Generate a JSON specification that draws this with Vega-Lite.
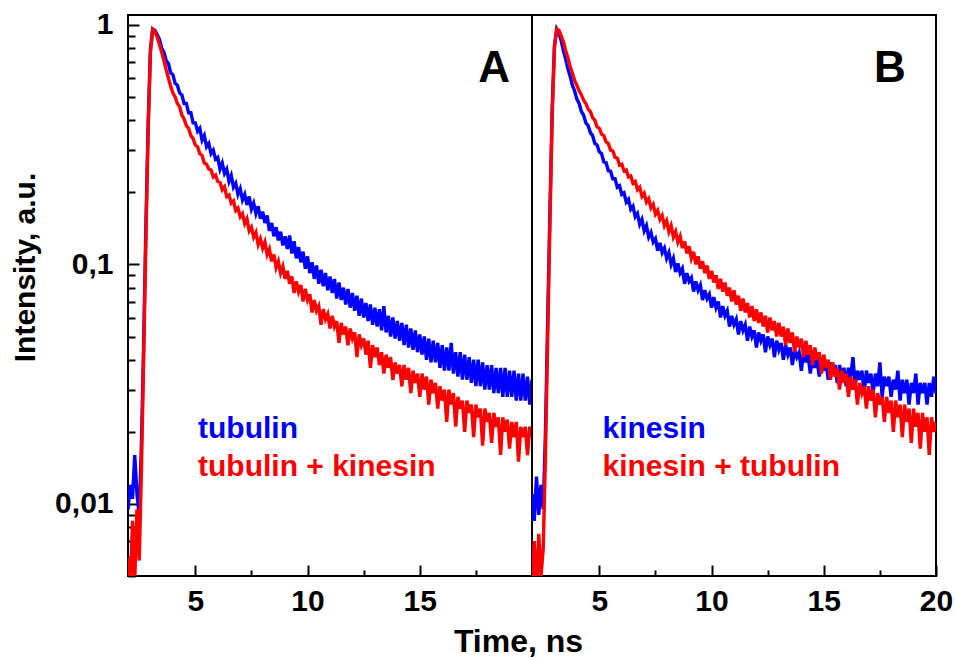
{
  "$schema": "https://vega.github.io/schema/vega-lite/v6.json",
  "background": "white",
  "padding": {"left": 9, "top": 8, "right": 5, "bottom": 0},
  "spacing": 0,
  "bounds": "flush",
  "config": {
    "font": "Liberation Sans",
    "view": {"stroke": "black", "strokeWidth": 2},
    "axis": {
      "labelFont": "Liberation Sans", "titleFont": "Liberation Sans",
      "labelColor": "black", "titleColor": "black", "tickColor": "black",
      "grid": false, "domain": false,
      "labelFontWeight": "bold", "titleFontWeight": "bold",
      "labelFontSize": 30, "titleFontSize": 30,
      "tickWidth": 2, "labelFlush": false, "labelOverlap": false
    }
  },
  "datasets": {
    "A_tubulin": [
      {"t":2.0,"v":0.0095},{"t":2.1,"v":0.012},{"t":2.2,"v":0.0105},{"t":2.3,"v":0.016},{"t":2.4,"v":0.011},{"t":2.5,"v":0.009},{"t":2.6,"v":0.018},{"t":2.7,"v":0.048},{"t":2.8,"v":0.15},{"t":2.9,"v":0.39},
      {"t":3.0,"v":0.79},{"t":3.1,"v":0.96},{"t":3.2,"v":0.95},{"t":3.3,"v":0.91},{"t":3.4,"v":0.87},{"t":3.5,"v":0.80},{"t":3.6,"v":0.77},{"t":3.7,"v":0.71},{"t":3.8,"v":0.69},{"t":3.9,"v":0.63},
      {"t":4.0,"v":0.62},{"t":4.1,"v":0.57},{"t":4.2,"v":0.56},{"t":4.3,"v":0.52},{"t":4.4,"v":0.51},{"t":4.5,"v":0.47},{"t":4.6,"v":0.47},{"t":4.7,"v":0.43},{"t":4.8,"v":0.43},{"t":4.9,"v":0.39},
      {"t":5.0,"v":0.39},{"t":5.1,"v":0.36},{"t":5.2,"v":0.37},{"t":5.3,"v":0.33},{"t":5.4,"v":0.345},{"t":5.5,"v":0.31},{"t":5.6,"v":0.32},{"t":5.7,"v":0.29},{"t":5.8,"v":0.30},{"t":5.9,"v":0.275},
      {"t":6.0,"v":0.28},{"t":6.1,"v":0.25},{"t":6.2,"v":0.265},{"t":6.3,"v":0.24},{"t":6.4,"v":0.25},{"t":6.5,"v":0.222},{"t":6.6,"v":0.235},{"t":6.7,"v":0.21},{"t":6.8,"v":0.218},{"t":6.9,"v":0.196},
      {"t":7.0,"v":0.207},{"t":7.1,"v":0.186},{"t":7.2,"v":0.196},{"t":7.3,"v":0.177},{"t":7.4,"v":0.192},{"t":7.5,"v":0.17},{"t":7.6,"v":0.18},{"t":7.7,"v":0.163},{"t":7.8,"v":0.175},{"t":7.9,"v":0.155},
      {"t":8.0,"v":0.166},{"t":8.1,"v":0.149},{"t":8.2,"v":0.16},{"t":8.3,"v":0.138},{"t":8.4,"v":0.149},{"t":8.5,"v":0.131},{"t":8.6,"v":0.143},{"t":8.7,"v":0.126},{"t":8.8,"v":0.137},{"t":8.9,"v":0.12},
      {"t":9.0,"v":0.131},{"t":9.1,"v":0.116},{"t":9.2,"v":0.132},{"t":9.3,"v":0.111},{"t":9.4,"v":0.125},{"t":9.5,"v":0.106},{"t":9.6,"v":0.118},{"t":9.7,"v":0.102},{"t":9.8,"v":0.113},{"t":9.9,"v":0.096},
      {"t":10.0,"v":0.108},{"t":10.1,"v":0.092},{"t":10.2,"v":0.102},{"t":10.3,"v":0.087},{"t":10.4,"v":0.099},{"t":10.5,"v":0.083},{"t":10.6,"v":0.095},{"t":10.7,"v":0.081},{"t":10.8,"v":0.092},{"t":10.9,"v":0.078},
      {"t":11.0,"v":0.089},{"t":11.1,"v":0.076},{"t":11.2,"v":0.087},{"t":11.3,"v":0.072},{"t":11.4,"v":0.084},{"t":11.5,"v":0.071},{"t":11.6,"v":0.08},{"t":11.7,"v":0.068},{"t":11.8,"v":0.079},{"t":11.9,"v":0.066},
      {"t":12.0,"v":0.076},{"t":12.1,"v":0.064},{"t":12.2,"v":0.074},{"t":12.3,"v":0.061},{"t":12.4,"v":0.072},{"t":12.5,"v":0.06},{"t":12.6,"v":0.069},{"t":12.7,"v":0.058},{"t":12.8,"v":0.068},{"t":12.9,"v":0.056},
      {"t":13.0,"v":0.066},{"t":13.1,"v":0.055},{"t":13.2,"v":0.065},{"t":13.3,"v":0.053},{"t":13.4,"v":0.067},{"t":13.5,"v":0.052},{"t":13.6,"v":0.061},{"t":13.7,"v":0.05},{"t":13.8,"v":0.06},{"t":13.9,"v":0.049},
      {"t":14.0,"v":0.058},{"t":14.1,"v":0.048},{"t":14.2,"v":0.057},{"t":14.3,"v":0.046},{"t":14.4,"v":0.056},{"t":14.5,"v":0.045},{"t":14.6,"v":0.054},{"t":14.7,"v":0.044},{"t":14.8,"v":0.053},{"t":14.9,"v":0.043},
      {"t":15.0,"v":0.051},{"t":15.1,"v":0.042},{"t":15.2,"v":0.05},{"t":15.3,"v":0.04},{"t":15.4,"v":0.049},{"t":15.5,"v":0.039},{"t":15.6,"v":0.048},{"t":15.7,"v":0.039},{"t":15.8,"v":0.047},{"t":15.9,"v":0.037},
      {"t":16.0,"v":0.046},{"t":16.1,"v":0.036},{"t":16.2,"v":0.045},{"t":16.3,"v":0.036},{"t":16.4,"v":0.047},{"t":16.5,"v":0.035},{"t":16.6,"v":0.043},{"t":16.7,"v":0.034},{"t":16.8,"v":0.043},{"t":16.9,"v":0.033},
      {"t":17.0,"v":0.042},{"t":17.1,"v":0.033},{"t":17.2,"v":0.041},{"t":17.3,"v":0.032},{"t":17.4,"v":0.04},{"t":17.5,"v":0.031},{"t":17.6,"v":0.04},{"t":17.7,"v":0.031},{"t":17.8,"v":0.039},{"t":17.9,"v":0.03},
      {"t":18.0,"v":0.038},{"t":18.1,"v":0.03},{"t":18.2,"v":0.038},{"t":18.3,"v":0.029},{"t":18.4,"v":0.037},{"t":18.5,"v":0.029},{"t":18.6,"v":0.037},{"t":18.7,"v":0.028},{"t":18.8,"v":0.037},{"t":18.9,"v":0.028},
      {"t":19.0,"v":0.036},{"t":19.1,"v":0.028},{"t":19.2,"v":0.036},{"t":19.3,"v":0.027},{"t":19.4,"v":0.035},{"t":19.5,"v":0.027},{"t":19.6,"v":0.035},{"t":19.7,"v":0.027},{"t":19.8,"v":0.034},{"t":19.9,"v":0.026},
      {"t":20.0,"v":0.033}
    ],
    "A_tubulin_kinesin": [
      {"t":2.0,"v":0.006},{"t":2.1,"v":0.0042},{"t":2.2,"v":0.0085},{"t":2.3,"v":0.0048},{"t":2.4,"v":0.0095},{"t":2.5,"v":0.0058},{"t":2.6,"v":0.014},{"t":2.7,"v":0.042},{"t":2.8,"v":0.13},{"t":2.9,"v":0.37},
      {"t":3.0,"v":0.77},{"t":3.1,"v":0.96},{"t":3.2,"v":0.94},{"t":3.3,"v":0.89},{"t":3.4,"v":0.83},{"t":3.5,"v":0.77},{"t":3.6,"v":0.71},{"t":3.7,"v":0.65},{"t":3.8,"v":0.60},{"t":3.9,"v":0.555},
      {"t":4.0,"v":0.52},{"t":4.1,"v":0.50},{"t":4.2,"v":0.47},{"t":4.3,"v":0.455},{"t":4.4,"v":0.42},{"t":4.5,"v":0.405},{"t":4.6,"v":0.38},{"t":4.7,"v":0.37},{"t":4.8,"v":0.345},{"t":4.9,"v":0.335},
      {"t":5.0,"v":0.315},{"t":5.1,"v":0.31},{"t":5.2,"v":0.29},{"t":5.3,"v":0.285},{"t":5.4,"v":0.265},{"t":5.5,"v":0.262},{"t":5.6,"v":0.25},{"t":5.7,"v":0.248},{"t":5.8,"v":0.232},{"t":5.9,"v":0.236},
      {"t":6.0,"v":0.222},{"t":6.1,"v":0.22},{"t":6.2,"v":0.205},{"t":6.3,"v":0.211},{"t":6.4,"v":0.192},{"t":6.5,"v":0.195},{"t":6.6,"v":0.18},{"t":6.7,"v":0.184},{"t":6.8,"v":0.168},{"t":6.9,"v":0.172},
      {"t":7.0,"v":0.158},{"t":7.1,"v":0.163},{"t":7.2,"v":0.148},{"t":7.3,"v":0.155},{"t":7.4,"v":0.138},{"t":7.5,"v":0.143},{"t":7.6,"v":0.13},{"t":7.7,"v":0.136},{"t":7.8,"v":0.121},{"t":7.9,"v":0.128},
      {"t":8.0,"v":0.117},{"t":8.1,"v":0.124},{"t":8.2,"v":0.11},{"t":8.3,"v":0.116},{"t":8.4,"v":0.103},{"t":8.5,"v":0.11},{"t":8.6,"v":0.097},{"t":8.7,"v":0.103},{"t":8.8,"v":0.092},{"t":8.9,"v":0.098},
      {"t":9.0,"v":0.087},{"t":9.1,"v":0.094},{"t":9.2,"v":0.083},{"t":9.3,"v":0.089},{"t":9.4,"v":0.076},{"t":9.5,"v":0.085},{"t":9.6,"v":0.077},{"t":9.7,"v":0.082},{"t":9.8,"v":0.07},{"t":9.9,"v":0.079},
      {"t":10.0,"v":0.071},{"t":10.1,"v":0.075},{"t":10.2,"v":0.063},{"t":10.3,"v":0.071},{"t":10.4,"v":0.064},{"t":10.5,"v":0.067},{"t":10.6,"v":0.056},{"t":10.7,"v":0.065},{"t":10.8,"v":0.059},{"t":10.9,"v":0.062},
      {"t":11.0,"v":0.054},{"t":11.1,"v":0.061},{"t":11.2,"v":0.055},{"t":11.3,"v":0.058},{"t":11.4,"v":0.047},{"t":11.5,"v":0.057},{"t":11.6,"v":0.051},{"t":11.7,"v":0.055},{"t":11.8,"v":0.046},{"t":11.9,"v":0.054},
      {"t":12.0,"v":0.049},{"t":12.1,"v":0.052},{"t":12.2,"v":0.041},{"t":12.3,"v":0.051},{"t":12.4,"v":0.046},{"t":12.5,"v":0.049},{"t":12.6,"v":0.042},{"t":12.7,"v":0.048},{"t":12.8,"v":0.037},{"t":12.9,"v":0.046},
      {"t":13.0,"v":0.041},{"t":13.1,"v":0.045},{"t":13.2,"v":0.038},{"t":13.3,"v":0.043},{"t":13.4,"v":0.035},{"t":13.5,"v":0.042},{"t":13.6,"v":0.037},{"t":13.7,"v":0.041},{"t":13.8,"v":0.033},{"t":13.9,"v":0.039},
      {"t":14.0,"v":0.035},{"t":14.1,"v":0.038},{"t":14.2,"v":0.031},{"t":14.3,"v":0.038},{"t":14.4,"v":0.033},{"t":14.5,"v":0.037},{"t":14.6,"v":0.029},{"t":14.7,"v":0.036},{"t":14.8,"v":0.032},{"t":14.9,"v":0.035},
      {"t":15.0,"v":0.028},{"t":15.1,"v":0.035},{"t":15.2,"v":0.03},{"t":15.3,"v":0.034},{"t":15.4,"v":0.026},{"t":15.5,"v":0.033},{"t":15.6,"v":0.029},{"t":15.7,"v":0.032},{"t":15.8,"v":0.025},{"t":15.9,"v":0.031},
      {"t":16.0,"v":0.027},{"t":16.1,"v":0.03},{"t":16.2,"v":0.022},{"t":16.3,"v":0.03},{"t":16.4,"v":0.026},{"t":16.5,"v":0.029},{"t":16.6,"v":0.021},{"t":16.7,"v":0.028},{"t":16.8,"v":0.025},{"t":16.9,"v":0.027},
      {"t":17.0,"v":0.02},{"t":17.1,"v":0.027},{"t":17.2,"v":0.024},{"t":17.3,"v":0.026},{"t":17.4,"v":0.019},{"t":17.5,"v":0.026},{"t":17.6,"v":0.023},{"t":17.7,"v":0.025},{"t":17.8,"v":0.0175},{"t":17.9,"v":0.025},
      {"t":18.0,"v":0.022},{"t":18.1,"v":0.024},{"t":18.2,"v":0.018},{"t":18.3,"v":0.024},{"t":18.4,"v":0.021},{"t":18.5,"v":0.023},{"t":18.6,"v":0.016},{"t":18.7,"v":0.023},{"t":18.8,"v":0.02},{"t":18.9,"v":0.0225},
      {"t":19.0,"v":0.017},{"t":19.1,"v":0.022},{"t":19.2,"v":0.019},{"t":19.3,"v":0.022},{"t":19.4,"v":0.015},{"t":19.5,"v":0.021},{"t":19.6,"v":0.019},{"t":19.7,"v":0.021},{"t":19.8,"v":0.016},{"t":19.9,"v":0.021},
      {"t":20.0,"v":0.019}
    ],
    "B_kinesin": [
      {"t":2.0,"v":0.011},{"t":2.1,"v":0.0085},{"t":2.2,"v":0.013},{"t":2.3,"v":0.009},{"t":2.4,"v":0.012},{"t":2.5,"v":0.0095},{"t":2.6,"v":0.02},{"t":2.7,"v":0.06},{"t":2.8,"v":0.17},{"t":2.9,"v":0.45},
      {"t":3.0,"v":0.82},{"t":3.1,"v":0.96},{"t":3.2,"v":0.92},{"t":3.3,"v":0.86},{"t":3.4,"v":0.78},{"t":3.5,"v":0.72},{"t":3.6,"v":0.655},{"t":3.7,"v":0.61},{"t":3.8,"v":0.56},{"t":3.9,"v":0.53},
      {"t":4.0,"v":0.49},{"t":4.1,"v":0.47},{"t":4.2,"v":0.435},{"t":4.3,"v":0.42},{"t":4.4,"v":0.39},{"t":4.5,"v":0.38},{"t":4.6,"v":0.355},{"t":4.7,"v":0.345},{"t":4.8,"v":0.32},{"t":4.9,"v":0.315},
      {"t":5.0,"v":0.295},{"t":5.1,"v":0.29},{"t":5.2,"v":0.268},{"t":5.3,"v":0.266},{"t":5.4,"v":0.246},{"t":5.5,"v":0.245},{"t":5.6,"v":0.228},{"t":5.7,"v":0.228},{"t":5.8,"v":0.21},{"t":5.9,"v":0.213},
      {"t":6.0,"v":0.196},{"t":6.1,"v":0.199},{"t":6.2,"v":0.182},{"t":6.3,"v":0.187},{"t":6.4,"v":0.17},{"t":6.5,"v":0.175},{"t":6.6,"v":0.158},{"t":6.7,"v":0.163},{"t":6.8,"v":0.147},{"t":6.9,"v":0.154},
      {"t":7.0,"v":0.138},{"t":7.1,"v":0.145},{"t":7.2,"v":0.13},{"t":7.3,"v":0.136},{"t":7.4,"v":0.124},{"t":7.5,"v":0.128},{"t":7.6,"v":0.114},{"t":7.7,"v":0.123},{"t":7.8,"v":0.112},{"t":7.9,"v":0.117},
      {"t":8.0,"v":0.106},{"t":8.1,"v":0.112},{"t":8.2,"v":0.1},{"t":8.3,"v":0.106},{"t":8.4,"v":0.093},{"t":8.5,"v":0.101},{"t":8.6,"v":0.092},{"t":8.7,"v":0.096},{"t":8.8,"v":0.083},{"t":8.9,"v":0.092},
      {"t":9.0,"v":0.085},{"t":9.1,"v":0.088},{"t":9.2,"v":0.077},{"t":9.3,"v":0.085},{"t":9.4,"v":0.078},{"t":9.5,"v":0.082},{"t":9.6,"v":0.071},{"t":9.7,"v":0.078},{"t":9.8,"v":0.072},{"t":9.9,"v":0.075},
      {"t":10.0,"v":0.066},{"t":10.1,"v":0.073},{"t":10.2,"v":0.066},{"t":10.3,"v":0.07},{"t":10.4,"v":0.06},{"t":10.5,"v":0.067},{"t":10.6,"v":0.061},{"t":10.7,"v":0.064},{"t":10.8,"v":0.055},{"t":10.9,"v":0.061},
      {"t":11.0,"v":0.056},{"t":11.1,"v":0.059},{"t":11.2,"v":0.051},{"t":11.3,"v":0.058},{"t":11.4,"v":0.053},{"t":11.5,"v":0.056},{"t":11.6,"v":0.048},{"t":11.7,"v":0.055},{"t":11.8,"v":0.05},{"t":11.9,"v":0.053},
      {"t":12.0,"v":0.045},{"t":12.1,"v":0.052},{"t":12.2,"v":0.048},{"t":12.3,"v":0.051},{"t":12.4,"v":0.043},{"t":12.5,"v":0.05},{"t":12.6,"v":0.046},{"t":12.7,"v":0.049},{"t":12.8,"v":0.041},{"t":12.9,"v":0.048},
      {"t":13.0,"v":0.044},{"t":13.1,"v":0.047},{"t":13.2,"v":0.04},{"t":13.3,"v":0.046},{"t":13.4,"v":0.042},{"t":13.5,"v":0.045},{"t":13.6,"v":0.038},{"t":13.7,"v":0.044},{"t":13.8,"v":0.041},{"t":13.9,"v":0.043},
      {"t":14.0,"v":0.036},{"t":14.1,"v":0.043},{"t":14.2,"v":0.039},{"t":14.3,"v":0.042},{"t":14.4,"v":0.035},{"t":14.5,"v":0.041},{"t":14.6,"v":0.037},{"t":14.7,"v":0.04},{"t":14.8,"v":0.034},{"t":14.9,"v":0.04},
      {"t":15.0,"v":0.036},{"t":15.1,"v":0.039},{"t":15.2,"v":0.033},{"t":15.3,"v":0.039},{"t":15.4,"v":0.035},{"t":15.5,"v":0.038},{"t":15.6,"v":0.032},{"t":15.7,"v":0.038},{"t":15.8,"v":0.034},{"t":15.9,"v":0.037},
      {"t":16.0,"v":0.031},{"t":16.1,"v":0.037},{"t":16.2,"v":0.034},{"t":16.3,"v":0.041},{"t":16.4,"v":0.031},{"t":16.5,"v":0.036},{"t":16.6,"v":0.033},{"t":16.7,"v":0.036},{"t":16.8,"v":0.029},{"t":16.9,"v":0.036},
      {"t":17.0,"v":0.032},{"t":17.1,"v":0.035},{"t":17.2,"v":0.029},{"t":17.3,"v":0.035},{"t":17.4,"v":0.031},{"t":17.5,"v":0.039},{"t":17.6,"v":0.028},{"t":17.7,"v":0.034},{"t":17.8,"v":0.031},{"t":17.9,"v":0.034},
      {"t":18.0,"v":0.028},{"t":18.1,"v":0.033},{"t":18.2,"v":0.03},{"t":18.3,"v":0.036},{"t":18.4,"v":0.027},{"t":18.5,"v":0.033},{"t":18.6,"v":0.029},{"t":18.7,"v":0.033},{"t":18.8,"v":0.026},{"t":18.9,"v":0.032},
      {"t":19.0,"v":0.029},{"t":19.1,"v":0.035},{"t":19.2,"v":0.026},{"t":19.3,"v":0.032},{"t":19.4,"v":0.029},{"t":19.5,"v":0.032},{"t":19.6,"v":0.026},{"t":19.7,"v":0.032},{"t":19.8,"v":0.028},{"t":19.9,"v":0.034},
      {"t":20.0,"v":0.029}
    ],
    "B_kinesin_tubulin": [
      {"t":2.0,"v":0.0045},{"t":2.1,"v":0.007},{"t":2.2,"v":0.0042},{"t":2.3,"v":0.0075},{"t":2.4,"v":0.005},{"t":2.5,"v":0.0065},{"t":2.6,"v":0.016},{"t":2.7,"v":0.05},{"t":2.8,"v":0.15},{"t":2.9,"v":0.42},
      {"t":3.0,"v":0.8},{"t":3.1,"v":0.96},{"t":3.2,"v":0.95},{"t":3.3,"v":0.9},{"t":3.4,"v":0.85},{"t":3.5,"v":0.78},{"t":3.6,"v":0.73},{"t":3.7,"v":0.67},{"t":3.8,"v":0.63},{"t":3.9,"v":0.585},
      {"t":4.0,"v":0.56},{"t":4.1,"v":0.53},{"t":4.2,"v":0.51},{"t":4.3,"v":0.485},{"t":4.4,"v":0.47},{"t":4.5,"v":0.445},{"t":4.6,"v":0.435},{"t":4.7,"v":0.41},{"t":4.8,"v":0.4},{"t":4.9,"v":0.375},
      {"t":5.0,"v":0.37},{"t":5.1,"v":0.35},{"t":5.2,"v":0.345},{"t":5.3,"v":0.325},{"t":5.4,"v":0.32},{"t":5.5,"v":0.3},{"t":5.6,"v":0.298},{"t":5.7,"v":0.28},{"t":5.8,"v":0.278},{"t":5.9,"v":0.26},
      {"t":6.0,"v":0.262},{"t":6.1,"v":0.246},{"t":6.2,"v":0.248},{"t":6.3,"v":0.232},{"t":6.4,"v":0.234},{"t":6.5,"v":0.218},{"t":6.6,"v":0.222},{"t":6.7,"v":0.205},{"t":6.8,"v":0.21},{"t":6.9,"v":0.192},
      {"t":7.0,"v":0.198},{"t":7.1,"v":0.182},{"t":7.2,"v":0.188},{"t":7.3,"v":0.172},{"t":7.4,"v":0.178},{"t":7.5,"v":0.162},{"t":7.6,"v":0.168},{"t":7.7,"v":0.154},{"t":7.8,"v":0.16},{"t":7.9,"v":0.145},
      {"t":8.0,"v":0.152},{"t":8.1,"v":0.137},{"t":8.2,"v":0.145},{"t":8.3,"v":0.13},{"t":8.4,"v":0.137},{"t":8.5,"v":0.124},{"t":8.6,"v":0.131},{"t":8.7,"v":0.117},{"t":8.8,"v":0.125},{"t":8.9,"v":0.111},
      {"t":9.0,"v":0.119},{"t":9.1,"v":0.106},{"t":9.2,"v":0.113},{"t":9.3,"v":0.1},{"t":9.4,"v":0.108},{"t":9.5,"v":0.096},{"t":9.6,"v":0.103},{"t":9.7,"v":0.092},{"t":9.8,"v":0.099},{"t":9.9,"v":0.087},
      {"t":10.0,"v":0.094},{"t":10.1,"v":0.084},{"t":10.2,"v":0.09},{"t":10.3,"v":0.079},{"t":10.4,"v":0.087},{"t":10.5,"v":0.077},{"t":10.6,"v":0.084},{"t":10.7,"v":0.074},{"t":10.8,"v":0.08},{"t":10.9,"v":0.07},
      {"t":11.0,"v":0.078},{"t":11.1,"v":0.068},{"t":11.2,"v":0.074},{"t":11.3,"v":0.064},{"t":11.4,"v":0.072},{"t":11.5,"v":0.063},{"t":11.6,"v":0.069},{"t":11.7,"v":0.06},{"t":11.8,"v":0.067},{"t":11.9,"v":0.058},
      {"t":12.0,"v":0.065},{"t":12.1,"v":0.057},{"t":12.2,"v":0.063},{"t":12.3,"v":0.055},{"t":12.4,"v":0.061},{"t":12.5,"v":0.052},{"t":12.6,"v":0.06},{"t":12.7,"v":0.053},{"t":12.8,"v":0.058},{"t":12.9,"v":0.05},
      {"t":13.0,"v":0.057},{"t":13.1,"v":0.05},{"t":13.2,"v":0.055},{"t":13.3,"v":0.046},{"t":13.4,"v":0.054},{"t":13.5,"v":0.047},{"t":13.6,"v":0.052},{"t":13.7,"v":0.043},{"t":13.8,"v":0.05},{"t":13.9,"v":0.045},
      {"t":14.0,"v":0.049},{"t":14.1,"v":0.041},{"t":14.2,"v":0.048},{"t":14.3,"v":0.042},{"t":14.4,"v":0.046},{"t":14.5,"v":0.038},{"t":14.6,"v":0.045},{"t":14.7,"v":0.04},{"t":14.8,"v":0.043},{"t":14.9,"v":0.035},
      {"t":15.0,"v":0.042},{"t":15.1,"v":0.037},{"t":15.2,"v":0.04},{"t":15.3,"v":0.033},{"t":15.4,"v":0.039},{"t":15.5,"v":0.034},{"t":15.6,"v":0.037},{"t":15.7,"v":0.03},{"t":15.8,"v":0.036},{"t":15.9,"v":0.032},
      {"t":16.0,"v":0.035},{"t":16.1,"v":0.028},{"t":16.2,"v":0.034},{"t":16.3,"v":0.03},{"t":16.4,"v":0.033},{"t":16.5,"v":0.026},{"t":16.6,"v":0.032},{"t":16.7,"v":0.029},{"t":16.8,"v":0.031},{"t":16.9,"v":0.025},
      {"t":17.0,"v":0.031},{"t":17.1,"v":0.027},{"t":17.2,"v":0.03},{"t":17.3,"v":0.023},{"t":17.4,"v":0.029},{"t":17.5,"v":0.026},{"t":17.6,"v":0.028},{"t":17.7,"v":0.022},{"t":17.8,"v":0.028},{"t":17.9,"v":0.024},
      {"t":18.0,"v":0.027},{"t":18.1,"v":0.02},{"t":18.2,"v":0.027},{"t":18.3,"v":0.023},{"t":18.4,"v":0.026},{"t":18.5,"v":0.019},{"t":18.6,"v":0.026},{"t":18.7,"v":0.022},{"t":18.8,"v":0.025},{"t":18.9,"v":0.018},
      {"t":19.0,"v":0.025},{"t":19.1,"v":0.021},{"t":19.2,"v":0.024},{"t":19.3,"v":0.017},{"t":19.4,"v":0.024},{"t":19.5,"v":0.02},{"t":19.6,"v":0.023},{"t":19.7,"v":0.016},{"t":19.8,"v":0.023},{"t":19.9,"v":0.02},
      {"t":20.0,"v":0.022}
    ]
  },
  "hconcat": [
    {
      "width": 404,
      "height": 561,
      "layer": [
        {
          "data": {"name": "A_tubulin"},
          "mark": {"type": "line", "color": "#0000ff", "strokeWidth": 3.4, "clip": true},
          "encoding": {
            "x": {"field": "t", "type": "quantitative", "scale": {"domain": [2, 20], "nice": false, "zero": false},
              "axis": {"title": "Time, ns", "titleX": 390, "titleFontSize": 32, "titlePadding": 5,
                "values": [5, 7.5, 10, 12.5, 15, 17.5],
                "labelExpr": "datum.value % 5 === 0 ? format(datum.value, 'd') : ''",
                "tickSize": {"condition": {"test": "datum.value % 5 === 0", "value": -11}, "value": -6},
                "labelPadding": 21}},
            "y": {"field": "v", "type": "quantitative", "scale": {"type": "log", "domain": [0.005, 1.1], "nice": false},
              "axis": {"title": "Intensity, a.u.", "titlePadding": 14, "titleY": 252,
                "values": [0.005, 0.006, 0.007, 0.008, 0.009, 0.01, 0.02, 0.03, 0.04, 0.05, 0.06, 0.07, 0.08, 0.09, 0.1, 0.2, 0.3, 0.4, 0.5, 0.6, 0.7, 0.8, 0.9, 1],
                "labelExpr": "datum.value === 1 ? '1' : datum.value === 0.1 ? '0,1' : datum.value === 0.01 ? '0,01' : ''",
                "tickSize": {"condition": {"test": "datum.value === 1 || datum.value === 0.1 || datum.value === 0.01", "value": -11}, "value": -7},
                "labelPadding": 26}}
          }
        },
        {
          "data": {"name": "A_tubulin_kinesin"},
          "mark": {"type": "line", "color": "#ff0000", "strokeWidth": 3.4, "clip": true},
          "encoding": {"x": {"field": "t", "type": "quantitative"}, "y": {"field": "v", "type": "quantitative"}}
        },
        {
          "data": {"values": [{"label": "A"}]},
          "mark": {"type": "text", "font": "Liberation Sans", "fontSize": 44, "fontWeight": "bold", "color": "black", "align": "center", "baseline": "alphabetic"},
          "encoding": {"x": {"datum": 18.31}, "y": {"datum": 0.579}, "text": {"field": "label"}}
        },
        {
          "data": {"values": [{"label": "tubulin"}]},
          "mark": {"type": "text", "font": "Liberation Sans", "fontSize": 30, "fontWeight": "bold", "color": "#0000ff", "align": "left", "baseline": "alphabetic"},
          "encoding": {"x": {"datum": 5.12}, "y": {"datum": 0.0189}, "text": {"field": "label"}}
        },
        {
          "data": {"values": [{"label": "tubulin + kinesin"}]},
          "mark": {"type": "text", "font": "Liberation Sans", "fontSize": 30, "fontWeight": "bold", "color": "#ff0000", "align": "left", "baseline": "alphabetic"},
          "encoding": {"x": {"datum": 5.12}, "y": {"datum": 0.0131}, "text": {"field": "label"}}
        }
      ]
    },
    {
      "width": 404,
      "height": 561,
      "layer": [
        {
          "data": {"name": "B_kinesin"},
          "mark": {"type": "line", "color": "#0000ff", "strokeWidth": 3.4, "clip": true},
          "encoding": {
            "x": {"field": "t", "type": "quantitative", "scale": {"domain": [2, 20], "nice": false, "zero": false},
              "axis": {"title": null, "values": [5, 7.5, 10, 12.5, 15, 17.5, 20],
                "labelExpr": "datum.value % 5 === 0 ? format(datum.value, 'd') : ''",
                "tickSize": {"condition": {"test": "datum.value % 5 === 0", "value": -11}, "value": -6},
                "labelPadding": 21}},
            "y": {"field": "v", "type": "quantitative", "scale": {"type": "log", "domain": [0.005, 1.1], "nice": false}, "axis": null}
          }
        },
        {
          "data": {"name": "B_kinesin_tubulin"},
          "mark": {"type": "line", "color": "#ff0000", "strokeWidth": 3.4, "clip": true},
          "encoding": {"x": {"field": "t", "type": "quantitative"}, "y": {"field": "v", "type": "quantitative"}}
        },
        {
          "data": {"values": [{"label": "B"}]},
          "mark": {"type": "text", "font": "Liberation Sans", "fontSize": 44, "fontWeight": "bold", "color": "black", "align": "center", "baseline": "alphabetic"},
          "encoding": {"x": {"datum": 17.95}, "y": {"datum": 0.579}, "text": {"field": "label"}}
        },
        {
          "data": {"values": [{"label": "kinesin"}]},
          "mark": {"type": "text", "font": "Liberation Sans", "fontSize": 30, "fontWeight": "bold", "color": "#0000ff", "align": "left", "baseline": "alphabetic"},
          "encoding": {"x": {"datum": 5.14}, "y": {"datum": 0.0189}, "text": {"field": "label"}}
        },
        {
          "data": {"values": [{"label": "kinesin + tubulin"}]},
          "mark": {"type": "text", "font": "Liberation Sans", "fontSize": 30, "fontWeight": "bold", "color": "#ff0000", "align": "left", "baseline": "alphabetic"},
          "encoding": {"x": {"datum": 5.14}, "y": {"datum": 0.0131}, "text": {"field": "label"}}
        }
      ]
    }
  ]
}
